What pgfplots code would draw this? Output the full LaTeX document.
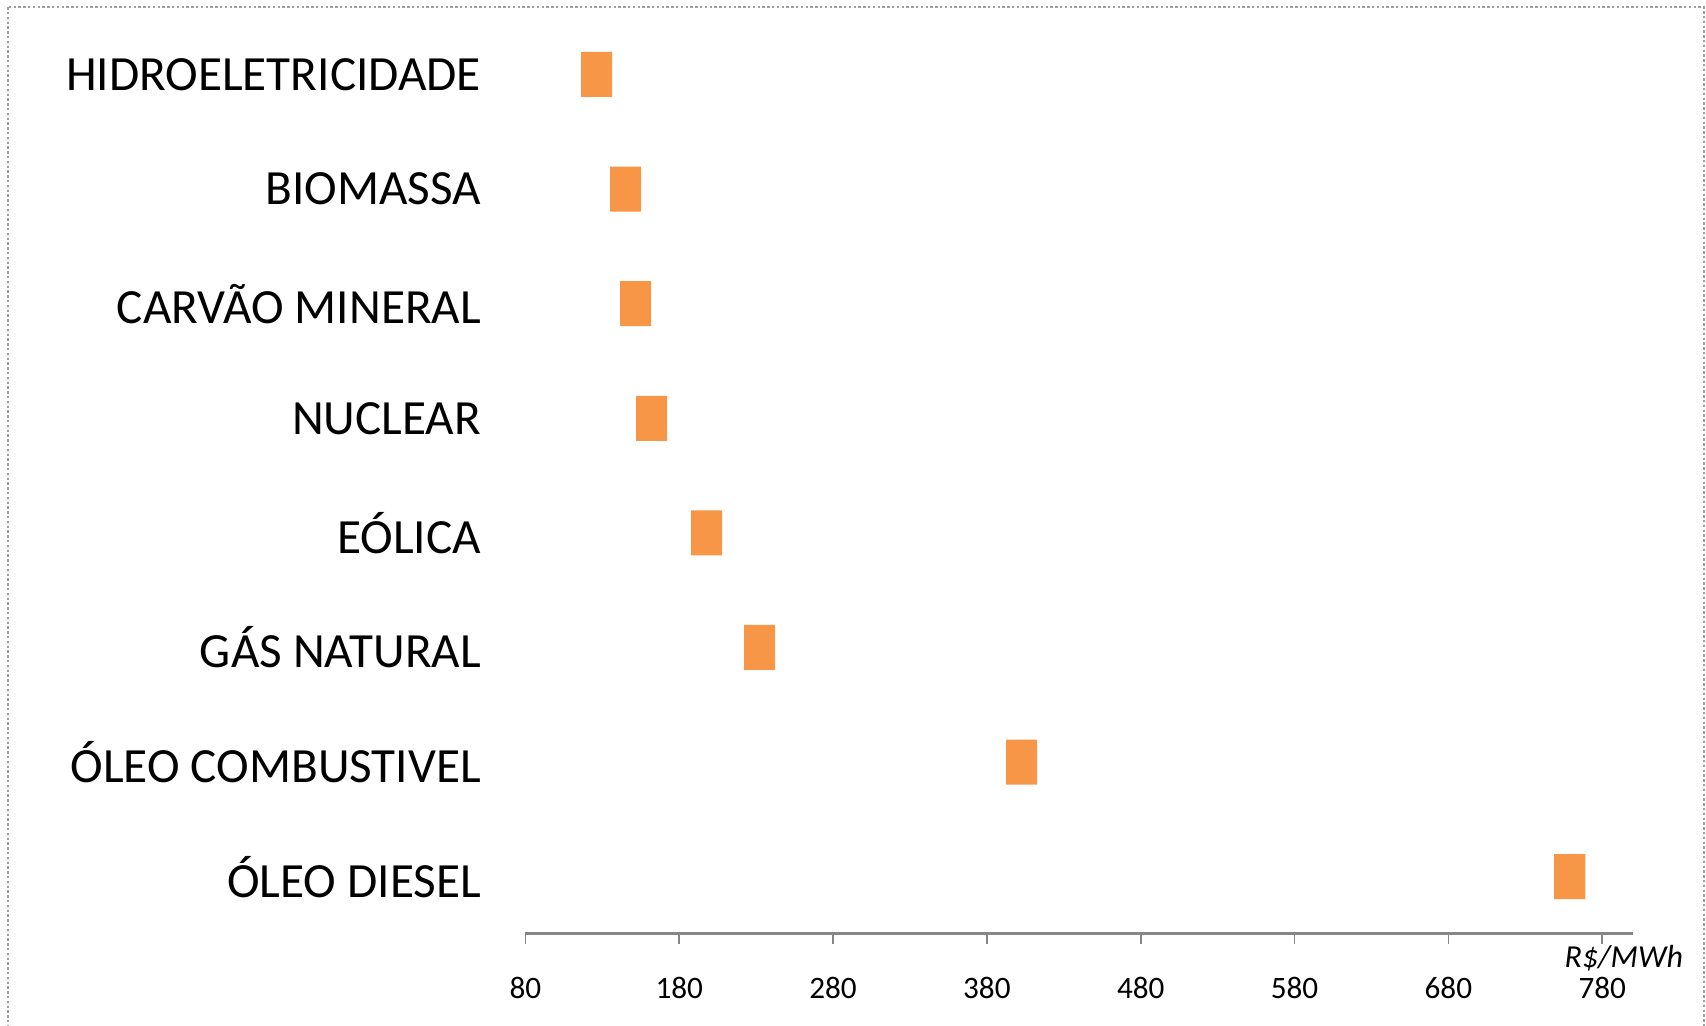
\documentclass[border=0pt]{standalone}
\usepackage{pgfplots}
\pgfplotsset{compat=1.18}
\usepackage{fontspec}
\setmainfont{Carlito}
\definecolor{barorange}{HTML}{F79646}
\definecolor{axisgray}{HTML}{868686}

\begin{document}
\begin{tikzpicture}
% page frame (1 px = 0.25pt)
\useasboundingbox (0,0) rectangle (426.5pt,-256.5pt);
\draw[axisgray!80, line width=0.35pt, dash pattern=on 0.6pt off 0.6pt]
  (2pt,-1.8pt) rectangle (426pt,-258pt);
\begin{axis}[
  at={(131.35pt,-233.5pt)}, anchor=south west,
  scale only axis, width=276.9pt, height=229.2pt,
  xmin=80, xmax=800, ymin=-0.5, ymax=7.5,
  xbar stacked, bar width=11.25pt,
  axis x line=bottom, axis y line=left,
  axis line style={-},
  every outer x axis line/.append style={draw=axisgray, line width=0.75pt},
  x axis line style={draw=axisgray, line width=0.75pt},
  y axis line style={draw=none},
  xtick={80,180,...,780},
  xtick style={draw=axisgray, line width=0.4pt},
  tick align=outside, major tick length=2.6pt,
  ytick={0,...,7},
  ytick style={draw=none},
  yticklabels={ÓLEO DIESEL, ÓLEO COMBUSTIVEL, GÁS NATURAL, EÓLICA, NUCLEAR, CARVÃO MINERAL, BIOMASSA, HIDROELETRICIDADE},
  yticklabel style={font=\fontsize{12.3pt}{14pt}\selectfont, anchor=east, inner sep=0pt, xshift=-8.3pt},
  xticklabel style={font=\fontsize{7.8pt}{9pt}\selectfont, inner sep=0pt, anchor=north, yshift=-8pt},
  /pgf/number format/assume math mode=true,
  clip=false,
]
% invisible offset from zero to the start of each range
\addplot[draw=none, fill=none] coordinates {
  (748.8,0) (392.5,1) (222.2,2) (187.7,3) (151.9,4) (141.5,5) (135.0,6) (116.2,7)};
% cost range
\addplot[draw=none, fill=barorange] coordinates {
  (20.2,0) (20.2,1) (20.2,2) (20.2,3) (20.2,4) (20.2,5) (20.2,6) (20.2,7)};
\node[font=\fontsize{8pt}{9pt}\selectfont\itshape, inner sep=0pt]
  at (rel axis cs:1,0) [xshift=-2.3pt, yshift=-6pt] {R\$/MWh};
\end{axis}
\end{tikzpicture}
\end{document}
